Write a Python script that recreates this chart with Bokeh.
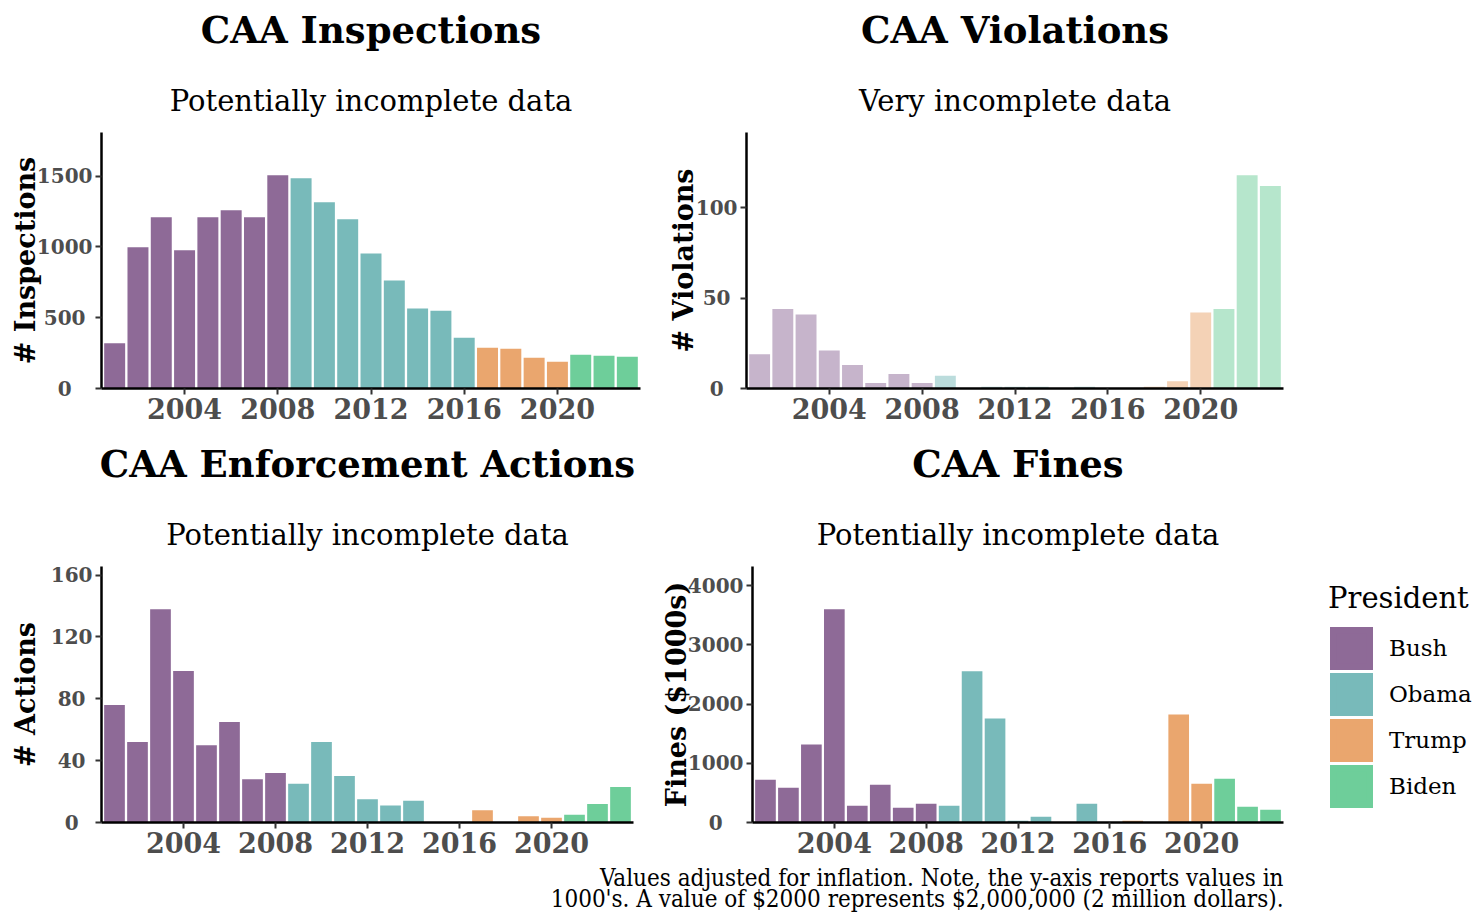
from bokeh.plotting import figure
from bokeh.models import (ColumnDataSource, Legend, LegendItem, FixedTicker, Range1d, Title,
                          Label)
from bokeh.layouts import row, column
from bokeh.embed import file_html
from bokeh.resources import INLINE

# ---------------- data ----------------
years = list(range(2001, 2024))
president = ["Bush"] * 8 + ["Obama"] * 8 + ["Trump"] * 4 + ["Biden"] * 3
presidents = ["Bush", "Obama", "Trump", "Biden"]
pres_colors = ["#8E6A97", "#78BABA", "#EAA66E", "#6ECE9A"]

inspections = [319, 997, 1209, 976, 1209, 1259, 1209, 1507, 1486, 1316, 1195, 954,
               763, 565, 550, 359, 288, 281, 217, 189, 239, 231, 224]
violations = [19, 44, 41, 21, 13, 3, 8, 3, 7, 0, 1, 1, 1, 0, 1, 0, 0, 1, 4, 42, 44, 118, 112]
actions = [76, 52, 138, 98, 50, 65, 28, 32, 25, 52, 30, 15, 11, 14, 0, 0, 8, 0, 4, 3, 5, 12, 23]
fines = [723, 588, 1316, 3605, 282, 638, 249, 316, 282, 2554, 1757, 28, 96, 0, 316, 0,
         28, 0, 1825, 655, 740, 266, 215]

x_ticks = [2004, 2008, 2012, 2016, 2020]
insp_ticks = [0, 500, 1000, 1500]
viol_ticks = [0, 50, 100]
act_ticks = [0, 40, 80, 120, 160]
fine_ticks = [0, 1000, 2000, 3000, 4000]

caption_lines = ["Values adjusted for inflation. Note, the y-axis reports values in",
                 "1000's. A value of $2000 represents $2,000,000 (2 million dollars)."]

FONT = "DejaVu Serif"
FIG_SP = "\u2007"    # digit-wide space
HALF_SP = "\u2008"   # ~half-digit space


def centered_labels(ticks):
    """Pad tick labels so that they sit centred like the reference (ggplot hjust=0.5)."""
    widest = max(len(str(t)) for t in ticks)
    out = {}
    for t in ticks:
        pad = widest - len(str(t))
        out[t] = str(t) + FIG_SP * (pad // 2) + HALF_SP * (pad % 2)
    return out


def make_panel(vals, title, subtitle, ylabel, yticks, alpha, fw, lb, rb, bb, label_standoff):
    p = figure(frame_width=fw, frame_height=256, min_border_left=lb, min_border_right=rb,
               min_border_top=132, min_border_bottom=bb,
               x_range=Range1d(2000.435, 2023.565), y_range=Range1d(0, max(vals) * 1.2),
               output_backend="svg", toolbar_location=None)
    renderers = {}
    sources = {}
    for pres, col in zip(presidents, pres_colors):
        xs = [y for y, pr in zip(years, president) if pr == pres]
        ts = [v for v, pr in zip(vals, president) if pr == pres]
        src = ColumnDataSource(dict(x=xs, top=ts))
        sources[pres] = src
        renderers[pres] = p.vbar(x="x", top="top", width=0.9, bottom=0, source=src,
                                 fill_color=col, fill_alpha=alpha, line_color=None)
    p.xgrid.visible = False
    p.ygrid.visible = False
    p.outline_line_color = None
    p.xaxis.ticker = FixedTicker(ticks=x_ticks)
    p.yaxis.ticker = FixedTicker(ticks=yticks)
    p.yaxis.major_label_overrides = centered_labels(yticks)
    for ax in (p.xaxis[0], p.yaxis[0]):
        ax.minor_tick_line_color = None
        ax.axis_line_color = "black"
        ax.axis_line_width = 2.5
        ax.major_tick_line_color = "#333333"
        ax.major_tick_line_width = 2
        ax.major_tick_out = 6
        ax.major_tick_in = 0
        ax.major_label_text_font = FONT
        ax.major_label_text_font_style = "bold"
        ax.major_label_text_color = "#4D4D4D"
    p.xaxis.major_label_text_font_size = "27px"
    p.xaxis.major_label_standoff = 3
    p.yaxis.major_label_text_font_size = "20px"
    p.yaxis.major_label_standoff = 3
    p.yaxis.axis_label = ylabel
    p.yaxis.axis_label_text_font = FONT
    p.yaxis.axis_label_text_font_style = "bold"
    p.yaxis.axis_label_text_font_size = "27px"
    p.yaxis.axis_label_text_color = "black"
    p.yaxis.axis_label_standoff = label_standoff

    # titles stacked above the frame (first added = closest to frame)
    p.add_layout(Title(text=subtitle, align="center", vertical_align="bottom", text_font=FONT,
                       text_font_size="29px", text_font_style="normal", text_color="black",
                       standoff=30), "above")
    p.add_layout(Title(text=" ", align="center", vertical_align="bottom", text_font=FONT,
                       text_font_size="2px", text_color="black", standoff=11), "above")
    p.add_layout(Title(text=title, align="center", vertical_align="bottom", text_font=FONT,
                       text_font_size="37px", text_font_style="bold", text_color="black",
                       standoff=0), "above")
    return p, renderers, sources


p1, _, _ = make_panel(inspections, "CAA Inspections", "Potentially incomplete data",
                      "# Inspections", insp_ticks, 1.0, 539, 101, 16, 46, -7)
p2, _, _ = make_panel(violations, "CAA Violations", "Very incomplete data", "# Violations",
                      viol_ticks, 0.5, 537, 90, 10, 46, -6)
p3, _, _ = make_panel(actions, "CAA Enforcement Actions", "Potentially incomplete data",
                      "# Actions", act_ticks, 1.0, 532, 101, 19, 42, 7)
p4, r4, s4 = make_panel(fines, "CAA Fines", "Potentially incomplete data", "Fines ($1000s)",
                        fine_ticks, 1.0, 531, 100, 190, 42, -7)

# legend swatches: hidden copies of the Fines bars, outlined so the swatch fills its slot
swatches = {}
for pres, col in zip(presidents, pres_colors):
    swatches[pres] = p4.vbar(x="x", top="top", width=0.9, bottom=0, source=s4[pres],
                             fill_color=col, line_color=col, line_width=6.2,
                             line_join="miter", visible=False)

legend = Legend(items=[LegendItem(label=pr, renderers=[swatches[pr]]) for pr in presidents],
                location=(45, 13), title="President", orientation="vertical",
                click_policy="none")
legend.title_text_font = FONT
legend.title_text_font_size = "29px"
legend.title_text_font_style = "normal"
legend.title_text_color = "black"
legend.title_standoff = 10
legend.label_text_font = FONT
legend.label_text_font_size = "23px"
legend.label_text_color = "black"
legend.glyph_width = 46
legend.glyph_height = 46
legend.label_height = 46
legend.spacing = 0
legend.label_standoff = 15
legend.padding = 0
legend.margin = 0
legend.border_line_color = None
legend.background_fill_alpha = 0
p4.add_layout(legend, "right")

# caption strip below the bottom row
cap = figure(frame_width=1290, frame_height=48, min_border=0, x_axis_type=None,
             y_axis_type=None, x_range=Range1d(0, 1), y_range=Range1d(0, 1),
             output_backend="svg", toolbar_location=None)
cap.outline_line_color = None
for i, line in enumerate(caption_lines):
    cap.add_layout(Label(x=1283, y=35 - 21 * i, x_units="screen", y_units="screen", text=line,
                         text_align="right", text_baseline="alphabetic",
                         text_font="DejaVu Serif Condensed", text_font_size="24px",
                         text_color="black"))

layout = column(row(p1, p2), row(p3, p4), cap)
open("out.html", "w").write(file_html(layout, INLINE))
